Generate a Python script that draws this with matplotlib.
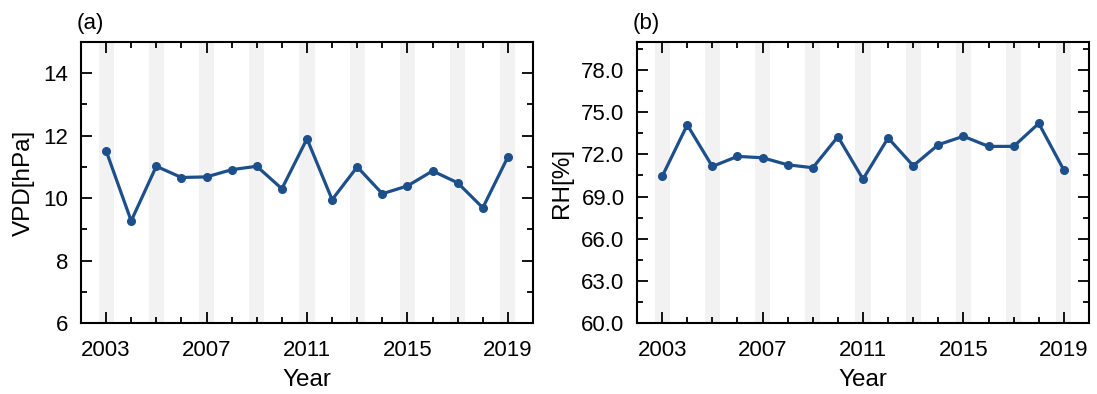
import matplotlib
matplotlib.use('Agg')
import matplotlib.pyplot as plt
from matplotlib.ticker import MultipleLocator, FormatStrFormatter

plt.rcParams['font.family'] = ['Liberation Sans', 'DejaVu Sans']

years = list(range(2003, 2020))
vpd = [11.52, 9.27, 11.02, 10.66, 10.68, 10.91, 11.02, 10.30, 11.90,
       9.95, 11.00, 10.14, 10.39, 10.87, 10.49, 9.69, 11.32]
rh = [70.43, 74.10, 71.14, 71.86, 71.76, 71.26, 71.05, 73.26, 70.24,
      73.17, 71.19, 72.69, 73.29, 72.57, 72.57, 74.21, 70.88]
band_years = list(range(2003, 2020, 2))
xticks = [2003, 2007, 2011, 2015, 2019]

line_color = '#1d4f8b'
band_color = '#f2f2f2'

fig = plt.figure(figsize=(10.97, 3.94), dpi=100)
ax1 = fig.add_axes([0.0738, 0.1802, 0.4121, 0.7132])
ax2 = fig.add_axes([0.5807, 0.1802, 0.4120, 0.7132])


def style_axis(ax, ylim, ymajor, yminor, ylabel, tag):
    for yr in band_years:
        ax.axvspan(yr - 0.3, yr + 0.3, color=band_color, lw=0, zorder=0)
    ax.set_xlim(2002, 2020)
    ax.set_ylim(*ylim)
    ax.set_xticks(xticks)
    ax.xaxis.set_minor_locator(MultipleLocator(1))
    ax.yaxis.set_major_locator(MultipleLocator(ymajor))
    ax.yaxis.set_minor_locator(MultipleLocator(yminor))
    ax.tick_params(which='both', direction='in', top=True, right=True,
                   labelsize=16, width=1.3)
    ax.tick_params(which='major', length=8)
    ax.tick_params(which='minor', length=4)
    ax.tick_params(axis='x', which='major', pad=12)
    ax.tick_params(axis='y', which='major', pad=9)
    for sp in ax.spines.values():
        sp.set_linewidth(1.5)
    ax.set_xlabel('Year', fontsize=17.5, labelpad=6)
    ax.set_ylabel(ylabel, fontsize=17.5, labelpad=6)
    ax.text(-0.01, 1.03, tag, transform=ax.transAxes, fontsize=16,
            ha='left', va='bottom')


ax1.plot(years, vpd, color=line_color, lw=2.3, marker='o', markersize=5.5, zorder=3)
style_axis(ax1, (6, 15), 2, 1, 'VPD[hPa]', '(a)')

ax2.plot(years, rh, color=line_color, lw=2.3, marker='o', markersize=5.5, zorder=3)
style_axis(ax2, (60, 80), 3, 1.5, 'RH[%]', '(b)')
ax2.yaxis.set_major_formatter(FormatStrFormatter('%.1f'))

fig.savefig('out.png', dpi=100)
